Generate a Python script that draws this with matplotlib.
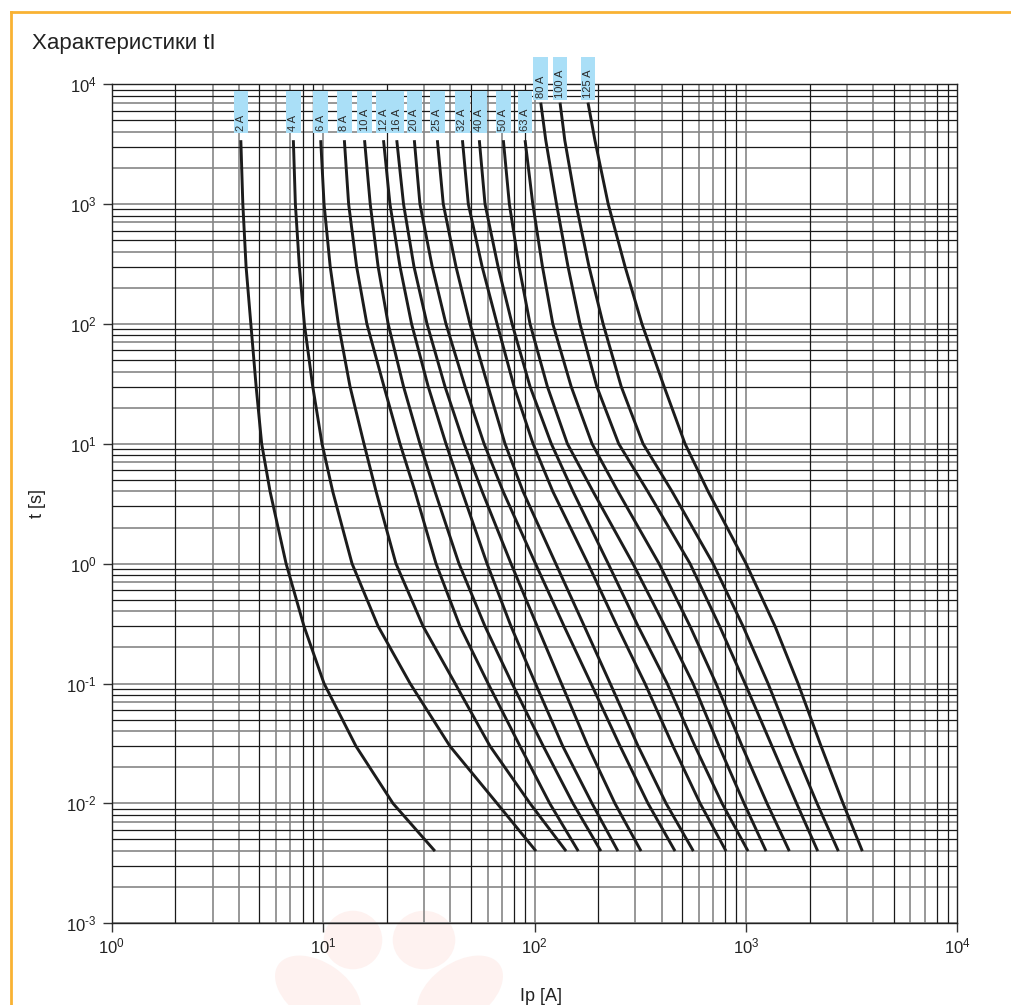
import matplotlib
matplotlib.use('Agg')
import matplotlib.pyplot as plt
import matplotlib.transforms as mtransforms
from matplotlib.patches import Rectangle, Ellipse
from matplotlib.lines import Line2D
from matplotlib.ticker import NullLocator, FuncFormatter
import numpy as np

plt.rcParams['font.family'] = ['Liberation Sans', 'DejaVu Sans']
plt.rcParams['mathtext.fontset'] = 'custom'
plt.rcParams['mathtext.rm'] = 'Liberation Sans'
plt.rcParams['axes.unicode_minus'] = False

## fuse ratings and melting curves t [s] vs Ip [A]
ratings = ['2 A', '4 A', '6 A', '8 A', '10 A', '12 A', '16 A', '20 A',
           '25 A', '32 A', '40 A', '50 A', '63 A', '80 A', '100 A', '125 A']

t_pts = [3400, 1000, 300, 100, 30, 10, 4, 1, 0.3, 0.1, 0.03, 0.01, 0.004]
t_pts_big = [7000] + t_pts   # 80 A .. 125 A start higher up

i_2 = [4.08, 4.17, 4.32, 4.55, 4.82, 5.12, 5.61, 6.68, 8.12, 10.1, 14.3, 21.4, 33.8]
i_4 = [7.23, 7.39, 7.72, 8.15, 8.93, 9.88, 11.1, 13.7, 18.2, 25.8, 39.8, 66.5, 101.6]
i_6 = [9.74, 10.1, 10.8, 11.8, 13.4, 15.6, 17.8, 22.1, 29.7, 42.1, 61.6, 95.2, 141]
i_8 = [12.6, 13.2, 14.4, 16.1, 19.4, 23.1, 27.2, 34.2, 44.4, 60.3, 85.4, 118, 161]
i_10 = [15.7, 16.7, 18.2, 20.3, 24.0, 28.7, 33.8, 43.9, 58.3, 78.3, 110, 152, 206]
i_12 = [19.3, 20.7, 23.1, 26.2, 31.4, 38.1, 45.4, 59.6, 77.4, 101, 136, 187, 248]
i_16 = [22.3, 24.0, 26.9, 31.0, 37.7, 46.4, 56.5, 77.4, 103, 134, 179, 240, 319]
i_20 = [27.0, 28.7, 32.8, 38.1, 46.9, 57.7, 71.0, 101, 138, 185, 254, 344, 462]
i_25 = [34.7, 37.0, 42.5, 49.5, 60.3, 72.5, 88.2, 126, 172, 228, 309, 419, 564]
i_32 = [45.6, 48.6, 56.5, 66.5, 80.0, 98.4, 122, 179, 246, 333, 452, 607, 805]
i_40 = [54.8, 58.3, 67.2, 78.3, 95.2, 120, 152, 223, 309, 424, 574, 771, 1023]
i_50 = [71.2, 76.0, 84.5, 95.2, 115, 143, 189, 292, 414, 562, 746, 980, 1245]
i_63 = [90.2, 98.1, 109, 122, 149, 187, 248, 388, 544, 722, 959, 1258, 1604]
i_80 = [107, 113, 127, 144, 164, 197, 250, 343, 544, 751, 990, 1328, 1736, 2186]
i_100 = [132, 139, 157, 181, 211, 257, 326, 447, 699, 969, 1272, 1670, 2169, 2736]
i_125 = [179, 193, 223, 268, 322, 410, 515, 662, 1001, 1373, 1764, 2267, 2880, 3553]

currents = [i_2, i_4, i_6, i_8, i_10, i_12, i_16, i_20, i_25, i_32, i_40,
            i_50, i_63, i_80, i_100, i_125]

x_decades = range(0, 4)
y_decades = range(-3, 4)

# print look of the grid: some minor lines come out grey, some black
x_grey = {1, 3, 4, 6, 7}
y_grey = {1, 2, 4, 7}

orange = '#f9b233'
box_blue = '#aadff7'
ink = '#1c1c1c'


def pow10(v, pos):
    # 10 with a raised exponent, short hyphen for negatives like the print
    e = str(int(round(np.log10(v)))).replace('-', '\u2010')
    return '$\\mathdefault{10^{%s}}$' % e


fig = plt.figure(figsize=(10.12, 10.05), dpi=100)

# faint watermark behind the chart
for (cx, cy, w, h, ang) in [(353, 940, 62, 62, 0), (424, 940, 66, 62, 0),
                            (318, 992, 100, 62, -35), (460, 992, 100, 62, 35)]:
    fig.add_artist(Ellipse((cx / 1012, 1 - cy / 1005), w / 1012, h / 1005,
                           angle=ang, transform=fig.transFigure,
                           facecolor='#fef2f0', edgecolor='white', lw=2.5,
                           zorder=0))

ax = fig.add_axes([0.1104, 0.0813, 0.8356, 0.8351])
ax.set_facecolor('none')
ax.set_xscale('log')
ax.set_yscale('log')
ax.set_xlim(1, 1e4)
ax.set_ylim(1e-3, 1e4)

# grid
for d in x_decades:
    for m in range(1, 10):
        v = m * 10.0 ** d
        if m in x_grey:
            ax.axvline(v, color='#868686', lw=1.2, zorder=1)
        else:
            ax.axvline(v, color='#1a1a1a', lw=0.9, zorder=1.1)
for d in y_decades:
    for m in range(1, 10):
        v = m * 10.0 ** d
        if m in y_grey:
            ax.axhline(v, color='#868686', lw=1.2, zorder=1)
        else:
            ax.axhline(v, color='#1a1a1a', lw=0.9, zorder=1.1)

# curves
for cur in currents:
    tt = t_pts_big if len(cur) == len(t_pts_big) else t_pts
    ax.plot(cur, tt, color=ink, lw=2.1, solid_capstyle='butt',
            solid_joinstyle='round', zorder=3)

# rating tags at the top end of each curve
trans = mtransforms.blended_transform_factory(ax.transData, ax.transAxes)
half = 10 ** 0.0343
for lab, cur in zip(ratings, currents):
    big = len(cur) == len(t_pts_big)
    x0 = cur[0]
    y0, h = (0.9809, 0.0516) if big else (0.9416, 0.0500)
    ax.add_patch(Rectangle((x0 / half, y0), x0 * half - x0 / half, h,
                           transform=trans, facecolor=box_blue,
                           edgecolor='none', zorder=4, clip_on=False))
    ax.text(x0, y0 + 0.003, lab, transform=trans, rotation=90,
            ha='center', va='bottom', fontsize=8, color='#2a2a2a',
            zorder=5, clip_on=False)

ax.set_xticks([10.0 ** k for k in range(0, 5)])
ax.set_yticks([10.0 ** k for k in range(-3, 5)])
ax.xaxis.set_major_formatter(FuncFormatter(pow10))
ax.yaxis.set_major_formatter(FuncFormatter(pow10))
ax.xaxis.set_minor_locator(NullLocator())
ax.yaxis.set_minor_locator(NullLocator())
ax.tick_params(which='major', direction='out', length=6.2, width=1.0,
               color='#333333', labelsize=12, labelcolor='#222222')
ax.tick_params(axis='y', pad=4.5)
ax.tick_params(axis='x', pad=3)
for s in ax.spines.values():
    s.set_color('#222222')
    s.set_linewidth(1.0)
    s.set_zorder(2)

fig.text(0.0313, 1 - 49 / 1005, 'Характеристики tI', fontsize=16,
         color='#222222', ha='left', va='baseline')
fig.text(38 / 1012, 1 - 503 / 1005, 't [s]', fontsize=13, rotation=90,
         color='#222222', ha='center', va='center')
fig.text(541 / 1012, 1 - 1001 / 1005, 'Ip [A]', fontsize=13,
         color='#222222', ha='center', va='baseline')

# orange frame (top and left edges)
fig.add_artist(Line2D([0.01057, 0.01057], [0, 0.9879], transform=fig.transFigure,
                      color=orange, lw=2.0))
fig.add_artist(Line2D([0.01057, 1.0], [0.9879, 0.9879], transform=fig.transFigure,
                      color=orange, lw=2.0))

fig.savefig('out.png', dpi=100)
